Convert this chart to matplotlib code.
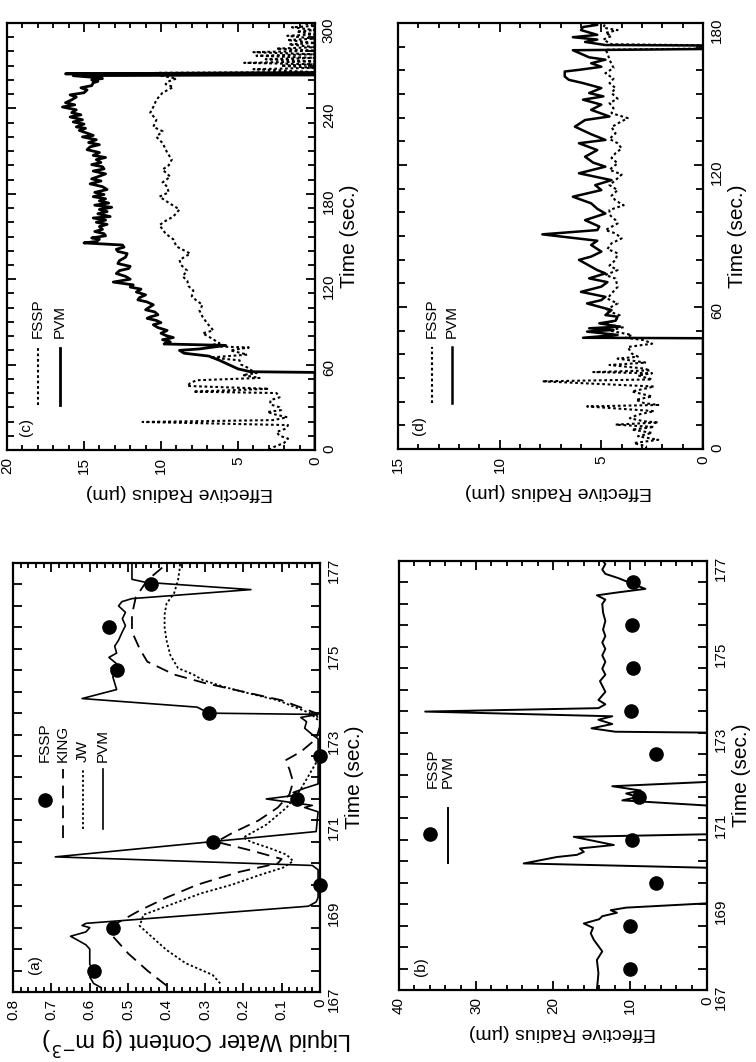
import matplotlib
matplotlib.use('Agg')
import matplotlib.pyplot as plt
from matplotlib.ticker import MultipleLocator, FixedLocator, FuncFormatter

plt.rcParams['font.family'] = ['Liberation Sans', 'DejaVu Sans']

# ---- panel (a): liquid water content, 167-177 s ----
a_pvm_t = [167.0, 167.1, 167.2, 167.35, 167.5, 167.65, 167.8, 168.0, 168.1, 168.3, 168.4, 168.5,
           168.55, 168.6, 169.0, 169.05, 169.1, 169.2, 169.85, 169.95, 170.15, 170.74, 171.2, 171.3,
           171.35, 171.5, 171.6, 171.65, 171.75, 171.85, 172.9, 173.0, 173.15, 173.3, 173.4, 173.47,
           173.5, 173.64, 173.84, 174.05, 174.2, 174.35, 174.45, 174.55, 174.65, 174.8, 174.9, 175.06,
           175.2, 175.38, 175.54, 175.7, 175.85, 176.0, 176.1, 176.17, 176.38, 176.55, 176.62, 176.88, 177.0]
a_pvm_v = [0.57, 0.57, 0.59, 0.60, 0.59, 0.60, 0.60, 0.60, 0.61, 0.65, 0.61, 0.60,
           0.62, 0.61, 0.03, 0.02, 0.01, 0.005, 0.005, 0.02, 0.69, 0.01, 0.005, 0.04,
           0.02, 0.14, 0.05, 0.07, 0.04, 0.005, 0.005, 0.02, 0.04, 0.035, 0.05, 0.005,
           0.29, 0.32, 0.62, 0.53, 0.535, 0.54, 0.53, 0.545, 0.53, 0.55, 0.53, 0.535,
           0.525, 0.516, 0.507, 0.515, 0.507, 0.525, 0.516, 0.49, 0.18, 0.455, 0.49, 0.49, 0.49]
a_king_t = [167.15, 167.5, 167.9, 168.3, 168.6, 168.9, 169.2, 169.5, 169.8, 170.0, 170.1, 170.3,
            170.5, 170.7, 171.0, 171.3, 171.6, 171.9, 172.2, 172.4, 172.6, 172.9, 173.2, 173.5,
            173.8, 174.0, 174.2, 174.4, 174.7, 175.0, 175.4, 175.8, 176.2, 176.6, 176.9, 177.0]
a_king_v = [0.40, 0.45, 0.50, 0.54, 0.53, 0.47, 0.40, 0.32, 0.21, 0.11, 0.10, 0.18,
            0.27, 0.23, 0.16, 0.11, 0.08, 0.07, 0.08, 0.09, 0.05, 0.01, 0.0, 0.01,
            0.10, 0.20, 0.30, 0.38, 0.45, 0.47, 0.49, 0.49, 0.48, 0.45, 0.41, 0.40]
a_jw_t = [167.2, 167.4, 167.67, 167.98, 168.3, 168.54, 168.8, 169.0, 169.3, 169.5, 169.73, 169.9,
          170.05, 170.2, 170.35, 170.5, 170.6, 170.9, 171.3, 171.7, 172.1, 172.5, 173.3, 173.5,
          173.8, 173.95, 174.1, 174.27, 174.4, 174.55, 174.85, 175.2, 175.5, 175.8, 176.05, 176.3,
          176.6, 176.9, 177.0]
a_jw_v = [0.26, 0.28, 0.35, 0.40, 0.44, 0.47, 0.46, 0.40, 0.31, 0.23, 0.156, 0.096,
          0.07, 0.087, 0.13, 0.18, 0.20, 0.14, 0.087, 0.052, 0.026, 0.0, 0.0, 0.026,
          0.11, 0.18, 0.245, 0.305, 0.33, 0.37, 0.39, 0.40, 0.405, 0.405, 0.40, 0.38,
          0.37, 0.365, 0.365]
fssp_t = [167.5, 168.5, 169.5, 170.5, 171.5, 172.5, 173.5, 174.5, 175.5, 176.5]
a_fssp_v = [0.59, 0.54, 0.0, 0.28, 0.06, 0.0, 0.29, 0.53, 0.55, 0.44]

# ---- panel (b): effective radius, 167-177 s ----
b_pvm_t = [167.0, 167.39, 167.7, 167.9, 168.17, 168.32, 168.45, 168.55, 168.65, 168.72, 168.8, 168.86,
           168.92, 169.02, 169.85, 169.95, 170.1, 170.15, 170.22, 170.3, 170.38, 170.57, 170.63, 171.3,
           171.42, 171.5, 171.58, 171.65, 171.75, 171.85, 173.0, 173.02, 173.1, 173.2, 173.3, 173.38,
           173.49, 173.57, 173.66, 173.76, 173.95, 174.2, 174.35, 174.49, 174.65, 174.8, 174.95, 175.1,
           175.25, 175.4, 175.6, 175.8, 176.0, 176.1, 176.2, 176.27, 176.35, 176.47, 176.6, 176.7,
           176.8, 176.93, 177.0]
b_pvm_v = [14.3, 14.1, 14.3, 13.6, 14.7, 15.1, 14.8, 16.0, 14.0, 13.6, 11.7, 12.5,
           10.5, 0.0, 0.0, 23.8, 19.5, 16.9, 16.0, 16.5, 12.1, 17.3, 0.0, 0.0,
           11.0, 9.0, 10.5, 8.6, 12.3, 0.0, 0.0, 11.9, 15.0, 12.3, 14.1, 12.3,
           36.6, 14.1, 13.2, 14.1, 13.2, 13.9, 13.2, 13.6, 13.2, 13.6, 13.2, 13.6,
           13.2, 13.5, 13.2, 13.5, 13.6, 13.2, 14.3, 11.5, 8.0, 9.7, 11.5, 13.2,
           13.6, 13.2, 13.5]
b_fssp_v = [10.0, 10.0, 6.6, 9.8, 8.8, 6.6, 9.9, 9.6, 9.8, 9.6]

# ---- panel (c): effective radius, 0-300 s ----
c_pvm_t = [0, 54.5, 55, 57, 60, 63, 66, 68, 70, 71, 73.5, 74.5, 76, 77.5, 79, 80.5, 82, 84, 86, 88,
           89.5, 91, 92.5, 93.5, 95, 97, 98.5, 100, 102, 104, 105.5, 107, 109, 111, 113, 114.5, 116, 118,
           120, 122, 124, 126, 127.5, 129, 131, 133, 135.5, 138, 139.5, 141, 142.5, 144, 145.5, 146.5, 148,
           149, 150.5, 152, 153.5, 155, 157, 158.5, 160, 161.5, 163, 164, 166, 167.5, 169, 170.5, 172,
           173.5, 175, 176.5, 178, 179.5, 181, 183, 185, 187, 189, 190.5, 192, 194, 196, 197.5, 199,
           200.5, 202, 204, 205.5, 207, 209, 211, 213, 214.5, 216, 218, 220, 221, 222.6, 224.5, 226, 227,
           229, 230.5, 232, 234, 235.5, 237, 239, 241, 242.5, 244, 246, 248, 249.5, 251, 253, 254.5, 256,
           258, 259, 260, 261, 262, 263, 263.6, 264.3, 265.2, 300]
c_pvm_v = [0, 0, 4.2, 5.0, 5.6, 6.2, 6.9, 8.5, 8.8, 7.5, 5.8, 9.8, 9.4, 9.9, 9.2, 9.7, 10.0, 9.6, 10.2, 10.5,
           10.0, 10.3, 10.9, 10.7, 10.2, 10.4, 11.0, 10.8, 10.5, 10.9, 11.5, 11.4, 11.0, 11.6, 11.3, 12.0, 11.8, 13.1,
           12.0, 12.3, 12.9, 12.7, 12.1, 12.0, 12.8, 12.7, 12.3, 12.2, 12.8, 12.9, 12.4, 12.5, 15.0, 14.2, 14.0,
           14.5, 13.6, 13.7, 14.3, 13.8, 14.0, 13.5, 14.2, 13.6, 14.4, 13.3, 14.1, 13.5, 14.0, 13.2, 14.3,
           13.4, 14.0, 13.6, 14.4, 13.7, 14.3, 13.5, 13.8, 14.6, 13.9, 14.5, 14.1, 13.6, 14.4, 13.7, 13.8,
           14.5, 13.9, 14.2, 13.6, 14.4, 14.0, 14.8, 14.6, 14.0, 14.7, 14.2, 15.1, 14.4, 14.8, 15.3, 14.9, 15.5,
           15.0, 15.7, 15.1, 15.9, 15.2, 15.8, 15.5, 16.4, 15.6, 16.2, 15.8, 15.5, 15.9, 15.0, 14.8, 15.2, 14.5,
           14.4, 14.1, 14.5, 13.8, 14.6, 15.7, 0, 16.2, 0, 0]
c_fssp_t = [0, 2, 5, 8, 10, 12.6, 15, 17.5, 19.7, 21, 23, 25, 26.7, 28, 30, 32, 35, 37, 40, 41,
            43, 45, 47, 49, 50.6, 52.7, 54, 55, 58, 60, 63, 65, 67, 70, 72, 73, 75, 79, 82, 84,
            89, 93.5, 98, 102, 105, 108, 112, 115, 119, 122, 126, 130, 133.5, 138, 143, 148, 152, 155, 158, 161,
            164, 169, 173, 178, 181, 185, 188, 192, 197, 200, 204, 209, 215.7, 220, 224, 227, 232, 237, 241, 246,
            251, 255, 257, 258.6, 261, 263, 265, 265.5, 267.5, 268.5, 270, 271, 272, 273, 274.5, 275.5, 277, 278,
            279.5, 280.5, 282, 283, 285, 286, 288, 289, 291, 292, 294, 295, 297, 298, 300]
c_fssp_v = [3.0, 2.7, 2.0, 1.75, 2.3, 2.5, 1.9, 1.75, 11.2, 2.7, 1.8, 2.6, 3.1, 2.2, 2.3, 2.9, 2.9, 2.3, 2.5, 7.9,
            3.0, 8.3, 8.1, 7.7, 3.6, 4.7, 3.8, 4.0, 4.4, 4.8, 4.9, 6.8, 4.4, 5.5, 4.3, 7.0, 6.2, 6.8, 7.3, 6.6,
            7.0, 7.3, 7.5, 7.3, 7.7, 8.0, 7.9, 8.2, 8.3, 8.6, 8.3, 8.7, 8.8, 8.1, 9.0, 9.2, 9.7, 9.9, 10.1, 9.7,
            9.2, 8.8, 9.4, 10.1, 9.5, 9.6, 9.9, 9.4, 9.9, 9.5, 9.3, 9.6, 9.9, 10.3, 9.9, 10.5, 10.3, 10.7, 10.5, 10.3,
            9.9, 9.2, 9.7, 9.6, 9.0, 10.0, 10.3, 0, 4.0, 0, 2.2, 0, 4.6, 0, 3.2, 0, 3.8, 0,
            4.0, 0, 2.5, 0, 1.7, 0, 1.8, 0, 1.8, 0, 1.2, 0, 1.5, 0, 0.8]

# ---- panel (d): effective radius, 0-180 s ----
d_pvm_t = [0, 46.8, 47, 48.2, 49.6, 50.3, 51, 51.7, 53.1, 54.2, 55.9, 56.6, 58.7, 61.5, 62.9, 64.3,
           66.4, 68.6, 70.5, 72.1, 74.2, 75.6, 79.9, 81.3, 83.4, 86.2, 88, 90.7, 92.5, 94, 96.7, 99.5,
           101.5, 103.8, 106.6, 109.4, 111.5, 113.6, 116.5, 119.3, 121, 123.5, 126.3, 129.2, 130.6, 133,
           136.2, 139, 140.5, 143.3, 145.5, 147.6, 149, 150.4, 152.5, 154.6, 156, 157.4, 159.5, 160.2,
           161.5, 163, 164.5, 165.5, 167, 168.5, 169, 170.5, 170.7, 172, 173, 174, 175, 176, 177,
           178.3, 179.2, 180]
d_pvm_v = [0, 0, 5.9, 4.2, 5.7, 4.4, 5.6, 4.1, 5.1, 4.3, 4.2, 4.8, 4.5, 5.7, 5.0, 4.8,
           6.0, 5.0, 4.7, 5.6, 4.8, 5.2, 6.1, 5.5, 5.0, 5.5, 5.2, 7.9, 5.2, 5.1, 5.8, 4.8,
           5.2, 5.5, 6.4, 5.0, 5.3, 4.5, 6.1, 4.8, 5.4, 5.8, 5.2, 6.1, 4.8, 5.5,
           6.3, 5.8, 4.6, 5.5, 5.0, 5.9, 4.9, 5.6, 5.0, 5.9, 6.6, 6.8, 6.8, 6.1,
           5.0, 5.5, 4.8, 5.6, 6.0, 6.4, 0, 0, 4.8, 5.8, 5.2, 6.4, 5.2, 5.6, 6.0,
           5.9, 5.2, 5.5]
d_fssp_t = [0, 1.1, 2.5, 3.9, 5.4, 6.8, 8.2, 9.3, 10.3, 11.2, 11.7, 13, 14.5, 16, 18.0, 18.6, 19.4,
            20.8, 22.2, 24.3, 26.4, 28.6, 29.4, 31.1, 32, 32.5, 33.2, 34, 35.5, 36.5, 38.2, 39, 40.3,
            43.1, 44.5, 46, 47, 48.2, 50, 51.5, 52.7, 54.5, 56.5, 58.7, 61.5, 63.5, 65.7, 68.5, 72,
            73.5, 75.6, 77.5, 79.9, 82.7, 84.5, 86.9, 89, 91.1, 92.5, 95.3, 96.7, 99, 101, 103, 105,
            107, 109.4, 111.5, 113.6, 116, 118, 120.7, 123, 125, 127, 129.2, 131, 133.4, 136, 138,
            139.8, 141.9, 144, 146.2, 148, 150.4, 152.5, 154.6, 156.5, 158.8, 161, 164.5, 167.3, 168.7,
            169.2, 170.6, 171, 173, 174.5, 175.8, 177, 178, 180]
d_fssp_v = [2.8, 2.8, 3.4, 2.2, 3.2, 2.5, 3.5, 2.4, 4.3, 2.2, 2.9, 3.6, 3.2, 2.4, 5.7, 2.2, 2.9,
            3.3, 2.5, 3.5, 2.4, 7.9, 2.5, 3.2, 2.5, 5.4, 2.6, 2.9, 4.6, 2.8, 4.2, 3.2, 3.5,
            3.7, 2.5, 2.9, 3.8, 3.5, 4.6, 3.9, 4.8, 4.3, 4.1, 4.8, 4.2, 4.7, 4.5, 4.2, 4.3,
            4.8, 4.2, 4.6, 4.3, 4.2, 4.7, 4.5, 4.0, 4.3, 4.8, 4.2, 4.3, 4.6, 4.6, 3.9, 4.3,
            4.5, 4.2, 4.6, 4.3, 4.0, 4.6, 4.2, 4.5, 4.3, 4.0, 4.2, 4.6, 4.3, 4.5, 4.1,
            3.7, 4.5, 4.4, 4.6, 4.2, 4.5, 4.3, 4.6, 4.4, 4.8, 4.4, 4.6, 4.7, 4.8,
            0, 0, 4.5, 4.9, 4.5, 4.8, 4.2, 4.9, 4.8]

W, H = 756, 1062
fig = plt.figure(figsize=(W / 100, H / 100), dpi=100)

DOTS = (0, (1.3, 1.3))
DASH = (0, (7, 4))


def px_rect(x0, y0, x1, y1):
    return [x0 / W, 1 - y1 / H, (x1 - x0) / W, (y1 - y0) / H]


def make_panel(rect, vmax, vmaj, vmin_, tlim, tmajor, tminor, vlabel, vfmt, label_x):
    # the page is turned: time runs up the right edge, the value grows to the left
    ax = fig.add_axes(px_rect(*rect))
    ax.set_xlim(vmax, 0)
    ax.set_ylim(*tlim)
    ax.xaxis.set_major_locator(MultipleLocator(vmaj))
    ax.xaxis.set_minor_locator(MultipleLocator(vmin_))
    ax.xaxis.set_major_formatter(FuncFormatter(vfmt))
    ax.yaxis.set_major_locator(FixedLocator(tmajor))
    ax.yaxis.set_minor_locator(MultipleLocator(tminor))
    ax.tick_params(which='both', direction='in', top=True, bottom=True, left=True, right=True,
                   labelleft=False, labelright=True, width=1.3)
    ax.tick_params(axis='x', which='major', length=6.5, labelsize=11, labelrotation=90, pad=5)
    ax.tick_params(axis='x', which='minor', length=3.5)
    ax.tick_params(axis='y', which='major', length=6.5, labelsize=11, labelrotation=90, pad=5)
    ax.tick_params(axis='y', which='minor', length=5)
    for s in ax.spines.values():
        s.set_linewidth(1.6)
    ax.set_xlabel(vlabel, rotation=180, fontsize=14, labelpad=7)
    ax.xaxis.label.set_x(label_x)
    ax.yaxis.set_label_position('right')
    ax.set_ylabel('Time (sec.)', rotation=90, fontsize=15, labelpad=3)
    return ax


def key_line(ax, x, y0, y1, **kw):
    ax.plot([x, x], [y0, y1], transform=ax.transAxes, color='black', clip_on=False, **kw)


def key_text(ax, x, y, s):
    ax.text(x, y, s, transform=ax.transAxes, rotation=90, ha='center', va='bottom', fontsize=11)


int_fmt = lambda v, _: '%d' % round(v)
lwc_fmt = lambda v, _: '0' if abs(v) < 1e-9 else '%.1f' % v

# (c)
ax = make_panel((7, 23, 315, 450), 20, 5, 1, (0, 300), [0, 60, 120, 180, 240, 300], 10,
                'Effective Radius (\u00b5m)', int_fmt, 0.56)
ax.plot(c_fssp_v, c_fssp_t, color='black', lw=1.5, ls=DOTS)
ax.plot(c_pvm_v, c_pvm_t, color='black', lw=2.0)
ax.text(0.062, 0.054, '(c)', transform=ax.transAxes, rotation=90, ha='center', va='center', fontsize=11)
key_line(ax, 0.10, 0.105, 0.239, lw=1.5, ls=DOTS)
key_line(ax, 0.172, 0.105, 0.239, lw=2.0)
key_text(ax, 0.10, 0.262, 'FSSP')
key_text(ax, 0.172, 0.262, 'PVM')

# (d)
ax = make_panel((398, 23, 703, 449), 15, 5, 1, (0, 180), [0, 60, 120, 180], 10,
                'Effective Radius (\u00b5m)', int_fmt, 0.525)
ax.plot(d_fssp_v, d_fssp_t, color='black', lw=1.5, ls=DOTS)
ax.plot(d_pvm_v, d_pvm_t, color='black', lw=1.8)
ax.text(0.069, 0.054, '(d)', transform=ax.transAxes, rotation=90, ha='center', va='center', fontsize=11)
key_line(ax, 0.111, 0.108, 0.239, lw=1.5, ls=DOTS)
key_line(ax, 0.177, 0.108, 0.239, lw=1.8)
key_text(ax, 0.111, 0.26, 'FSSP')
key_text(ax, 0.177, 0.26, 'PVM')

# (a)
ax = make_panel((13, 563, 320, 992), 0.8, 0.1, 0.02, (167, 177), [167, 169, 171, 173, 175, 177], 0.5,
                'Liquid Water Content (g m$^{-3}$)', lwc_fmt, 0.6)
ax.tick_params(axis='y', which='minor', length=6.5)
ax.xaxis.label.set_fontsize(17)
ax.xaxis.labelpad = 3
ax.plot(a_king_v, a_king_t, color='black', lw=1.3, ls=DASH)
ax.plot(a_jw_v, a_jw_t, color='black', lw=1.3, ls=DOTS)
ax.plot(a_pvm_v, a_pvm_t, color='black', lw=1.2)
ax.plot(a_fssp_v, fssp_t, 'o', color='black', ms=9.5, clip_on=False)
ax.text(0.072, 0.063, '(a)', transform=ax.transAxes, rotation=90, ha='center', va='center', fontsize=11)
ax.plot([0.104], [0.448], 'o', color='black', ms=9.5, transform=ax.transAxes)
key_line(ax, 0.163, 0.36, 0.52, lw=1.3, ls=DASH)
key_line(ax, 0.228, 0.38, 0.52, lw=1.3, ls=DOTS)
key_line(ax, 0.293, 0.38, 0.52, lw=1.2)
key_text(ax, 0.104, 0.535, 'FSSP')
key_text(ax, 0.163, 0.535, 'KING')
key_text(ax, 0.228, 0.535, 'JW')
key_text(ax, 0.293, 0.535, 'PVM')

# (b)
ax = make_panel((399, 561, 707, 990), 40, 10, 2, (167, 177), [167, 169, 171, 173, 175, 177], 0.5,
                'Effective Radius (\u00b5m)', int_fmt, 0.53)
ax.tick_params(axis='y', which='minor', length=6.5)
ax.plot(b_pvm_v, b_pvm_t, color='black', lw=1.4)
ax.plot(b_fssp_v, fssp_t, 'o', color='black', ms=9.5)
ax.text(0.071, 0.054, '(b)', transform=ax.transAxes, rotation=90, ha='center', va='center', fontsize=11)
ax.plot([0.10], [0.364], 'o', color='black', ms=9.5, transform=ax.transAxes)
key_line(ax, 0.159, 0.296, 0.424, lw=1.4)
key_text(ax, 0.11, 0.471, 'FSSP')
key_text(ax, 0.159, 0.471, 'PVM')

fig.savefig('out.png', dpi=100)
